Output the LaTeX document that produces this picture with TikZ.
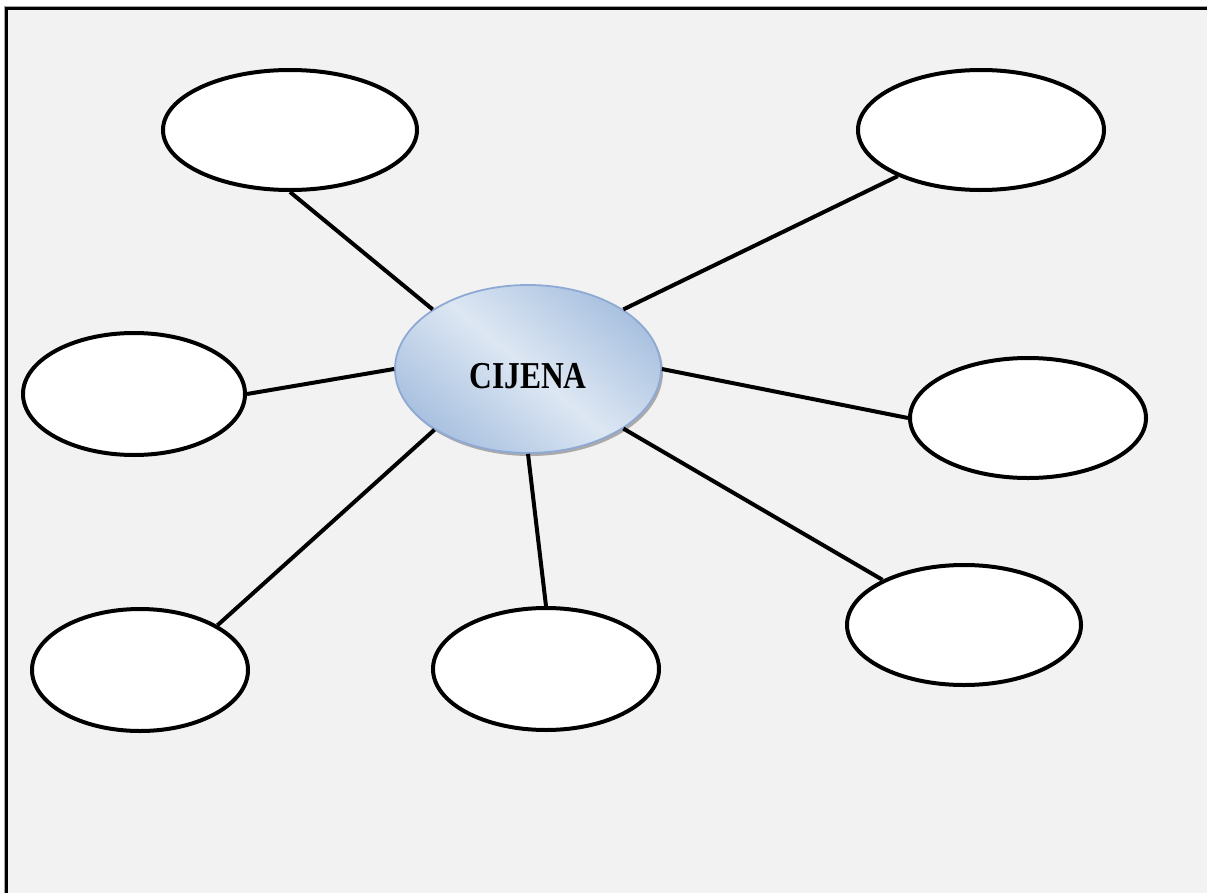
\documentclass[tikz,border=0pt]{standalone}
\usepackage{fontspec}
\usetikzlibrary{shapes.geometric,shadows}
\newfontfamily\hubfont[FakeStretch=0.83]{Liberation Serif}
\definecolor{paper}{HTML}{F2F2F2}
\definecolor{hubedge}{HTML}{8DA9D4}
\definecolor{hubdark}{HTML}{A9C1E0}
\definecolor{hublight}{HTML}{DDE7F3}
\tikzset{
  leaf/.style={ellipse, draw=black, line width=4bp, fill=white, inner sep=0pt},
  hub/.style={ellipse, draw=hubedge, line width=1.8bp, inner sep=0pt,
    minimum width=266bp, minimum height=168bp,
    top color=hubdark, bottom color=hubdark, middle color=hublight,
    shading angle=-40,
    drop shadow={shadow xshift=2bp, shadow yshift=-3bp, fill=black!45, opacity=0.7},
    font=\hubfont\bfseries\fontsize{38bp}{38bp}\selectfont,
    text height=38bp, text depth=0pt},
  spoke/.style={draw=black, line width=4bp}
}
\begin{document}
\begin{tikzpicture}[x=1bp,y=-1bp]
\useasboundingbox (0,0) rectangle (1207,893);
% page background, white margin strips and the frame's top and left rules
\fill[paper] (-10,-10) rectangle (1220,905);
\fill[white] (-10,-10) rectangle (1220,6);
\fill[white] (-10,-10) rectangle (4,905);
\draw[black!35, line width=1bp] (4,905) -- (4,6) -- (1220,6);
\draw[black, line width=2.5bp] (6.5,905) -- (6.5,8.5) -- (1220,8.5);

% central topic
\node[hub] (c) at (528,369) {CIJENA};

% surrounding empty bubbles
\node[leaf, minimum width=254bp, minimum height=120bp] (tl) at (290,130) {};
\node[leaf, minimum width=246bp, minimum height=120bp] (tr) at (981,130) {};
\node[leaf, minimum width=222bp, minimum height=122bp] (ml) at (134,394) {};
\node[leaf, minimum width=236bp, minimum height=120bp] (mr) at (1028,418) {};
\node[leaf, minimum width=216bp, minimum height=122bp] (bl) at (140,670) {};
\node[leaf, minimum width=226bp, minimum height=122bp] (bm) at (546,669) {};
\node[leaf, minimum width=234bp, minimum height=120bp] (br) at (964,625) {};

% spokes
\draw[spoke] (tl.south) -- (c.148);
\draw[spoke] (tr.209) -- (c.32);
\draw[spoke] (ml.east) -- (c.west);
\draw[spoke] (mr.west) -- (c.east);
\draw[spoke] (bl.30) -- (c.213);
\draw[spoke] (bm.north) -- (c.south);
\draw[spoke] (br.151) -- (c.-32);
\end{tikzpicture}
\end{document}
